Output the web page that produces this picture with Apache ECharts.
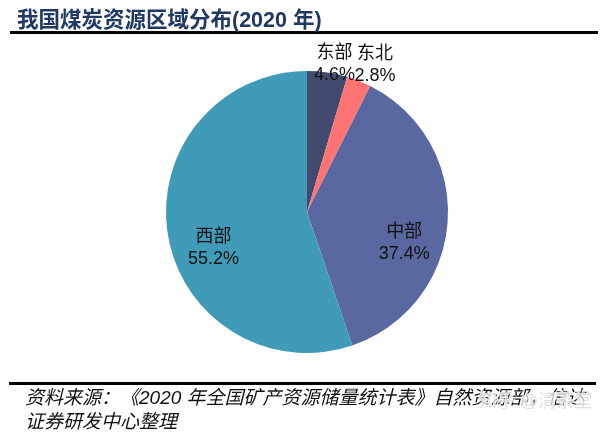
<!DOCTYPE html>
<html>
<head>
<meta charset="utf-8">
<script src="https://cdn.jsdelivr.net/npm/echarts@6/dist/echarts.min.js"></script>
<style>
  html, body { margin: 0; padding: 0; background: #fff; }
  #chart { width: 600px; height: 434px; }
</style>
</head>
<body>
<div id="chart"></div>
<script>
// 区域 / 占比(%)
const regions = ['东部', '东北', '中部', '西部']
const shares = [4.6, 2.8, 37.4, 55.2]
const colors = ['#424B6E', '#FF7373', '#5A68A2', '#3F9BB8']

// 标签偏移（相对扇区内部默认位置）
const labelOffsets = [[17, -75], [41, -79], [24, 26], [-21, 24]]

const fontCN = 'Liberation Sans, Arial, "Noto Sans CJK SC", sans-serif'

const chart = echarts.init(document.getElementById('chart'))

const pieData = regions.map((name, i) => ({
  name: name,
  value: shares[i],
  itemStyle: { color: colors[i] },
  label: { offset: labelOffsets[i] }
}))

const option = {
  animation: false,
  backgroundColor: '#fff',
  title: {
    text: '我国煤炭资源区域分布(2020 年)',
    left: 12,
    top: 5,
    textStyle: {
      color: '#1F3864',
      fontSize: 21.5,
      fontWeight: 'bold',
      fontFamily: fontCN
    }
  },
  graphic: [
    {
      type: 'rect',
      shape: { x: 10, y: 31, width: 588, height: 3 },
      style: { fill: '#000' }
    },
    {
      type: 'rect',
      shape: { x: 9, y: 382, width: 587, height: 3 },
      style: { fill: '#000' }
    },
    {
      type: 'text',
      left: 25,
      top: 387,
      style: {
        text: '资料来源：《2020 年全国矿产资源储量统计表》自然资源部，信达\n证券研发中心整理',
        fill: '#111',
        font: 'italic 19px ' + fontCN,
        lineHeight: 24
      }
    },
    {
      // 水印
      type: 'text',
      left: 478,
      top: 392,
      z: 200,
      style: {
        text: '知乎 @清茶堂',
        fill: 'rgba(215,215,215,0.8)',
        stroke: 'rgba(255,255,255,0.7)',
        lineWidth: 2,
        font: '18px ' + fontCN
      }
    }
  ],
  series: [
    {
      type: 'pie',
      center: [307, 212],
      radius: 141,
      startAngle: 90,
      clockwise: true,
      data: pieData,
      itemStyle: { borderWidth: 0 },
      label: {
        show: true,
        position: 'inside',
        color: '#111',
        fontSize: 18,
        lineHeight: 22,
        fontFamily: fontCN,
        formatter: p => p.name + '\n' + p.value.toFixed(1) + '%'
      },
      labelLayout: { hideOverlap: false },
      labelLine: { show: false },
      emphasis: { disabled: true }
    }
  ]
}

chart.setOption(option)
window.addEventListener('resize', () => chart.resize())
</script>
</body>
</html>
